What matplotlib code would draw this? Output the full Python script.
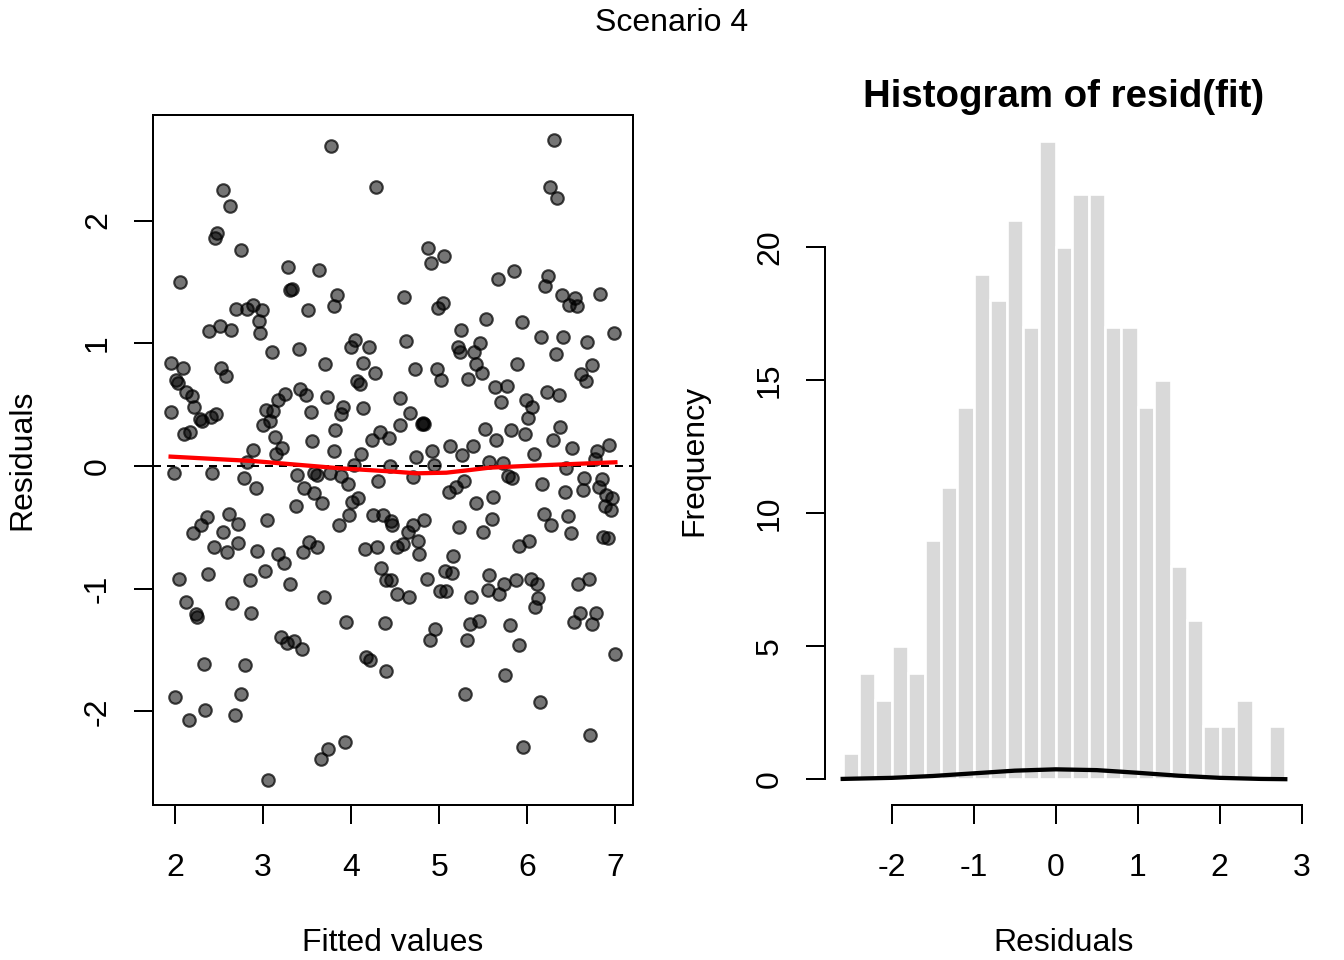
import matplotlib
matplotlib.use("Agg")
import matplotlib.pyplot as plt

plt.rcParams["font.family"] = ["Liberation Sans", "DejaVu Sans"]
plt.rcParams["axes.unicode_minus"] = False

# scatter: fitted values vs residuals
fitted = [
    3.77, 4.28, 2.55, 2.62, 2.48, 2.45, 2.75, 2.06, 3.28, 3.64, 3.31, 3.33, 3.84, 3.80, 3.51,
    2.69, 2.82, 2.89, 2.99, 2.95, 2.96, 2.51, 2.39, 2.64, 3.10, 3.41, 4.04, 4.00, 4.20,
    6.30, 6.26, 6.34, 4.87, 5.05, 4.91, 4.60, 5.04, 4.99, 5.67, 5.85, 6.23, 6.20, 6.39, 6.54,
    6.47, 6.56, 6.83, 5.53, 5.94, 5.25, 4.62, 6.15, 6.40, 6.68, 6.98, 5.21, 5.24, 5.46, 5.39, 6.33,
    1.95, 2.09, 2.52, 2.58, 2.01, 2.03, 2.13, 2.19, 1.96, 2.22, 2.28, 2.31, 2.41, 2.47, 2.10,
    2.17, 1.99, 2.42, 2.89, 2.82, 2.78, 2.92,
    3.70, 4.14, 4.27, 4.07, 4.10, 3.42, 3.49, 3.25, 3.17, 3.03, 3.11, 3.08, 3.00, 3.72, 3.54,
    3.91, 3.88, 4.13, 3.82, 3.13, 3.55, 3.21, 3.15, 3.80, 4.33, 4.24, 4.43, 4.11, 4.03, 4.44,
    3.38, 3.58, 3.61, 3.76, 3.89, 3.96, 4.31, 3.47, 3.58, 3.67, 3.37, 4.08, 4.01, 3.97, 3.86,
    4.25, 4.36, 4.45, 4.46,
    2.61, 2.72, 2.36, 2.29, 2.20, 2.54, 3.04, 2.44, 2.59, 2.71, 2.93, 3.17, 3.24, 3.45, 3.52,
    3.61, 4.16, 4.29, 4.34, 4.40, 4.45, 2.05, 2.37, 2.85, 3.02, 3.31,
    4.72, 4.97, 5.02, 5.33, 5.42, 5.49, 5.88, 5.63, 5.77, 5.70, 5.99, 6.05, 6.01, 6.22, 6.36,
    6.61, 6.67, 6.74, 4.56, 4.67, 4.55, 4.80, 4.83, 4.82,
    5.52, 5.64, 5.81, 5.97, 6.37, 6.29, 6.51, 6.93, 6.79, 6.77, 6.08, 5.12, 4.92, 4.74, 5.38,
    5.26, 4.94, 5.57, 5.72,
    4.70, 5.28, 5.19, 5.11, 5.78, 5.83, 6.17, 6.43, 6.44, 6.64, 6.63, 6.85, 6.81, 6.89, 6.96,
    6.88, 6.95, 5.61, 5.42, 5.60, 5.50, 5.22, 4.83, 4.70, 4.64,
    6.19, 6.27, 6.46, 6.50, 4.59, 4.52, 4.76, 4.77, 5.16, 6.02, 5.91, 6.86, 6.92, 5.07, 5.14,
    4.86, 5.56, 5.87, 6.04, 6.11, 6.70, 6.57, 5.73,
    2.12, 2.24, 2.25, 2.65, 2.86, 3.69, 3.94, 4.38, 4.52, 3.20, 3.27, 3.35, 3.44, 4.17, 4.21,
    4.39, 2.33, 2.79, 2.00, 2.75, 2.34, 2.16, 2.68, 3.93, 3.74, 3.66, 3.06,
    4.66, 5.01, 5.08, 5.36, 5.55, 5.68, 6.12, 6.09, 4.95, 4.89, 5.35, 5.45, 5.31, 5.80, 5.91,
    6.60, 6.53, 6.78, 6.74, 7.00, 5.75, 5.29, 6.14, 6.71, 5.95,
]
resid = [
    2.61, 2.27, 2.25, 2.12, 1.90, 1.86, 1.76, 1.50, 1.62, 1.60, 1.43, 1.44, 1.39, 1.30, 1.27,
    1.28, 1.28, 1.31, 1.27, 1.18, 1.08, 1.14, 1.10, 1.11, 0.93, 0.95, 1.03, 0.97, 0.97,
    2.66, 2.27, 2.18, 1.78, 1.71, 1.65, 1.38, 1.33, 1.29, 1.52, 1.59, 1.55, 1.47, 1.39, 1.37,
    1.31, 1.30, 1.40, 1.20, 1.17, 1.11, 1.02, 1.05, 1.05, 1.01, 1.08, 0.97, 0.93, 1.00, 0.93, 0.91,
    0.84, 0.80, 0.80, 0.73, 0.70, 0.68, 0.60, 0.57, 0.44, 0.48, 0.38, 0.37, 0.40, 0.42, 0.26,
    0.28, -0.06, -0.06, 0.13, 0.03, -0.10, -0.18,
    0.83, 0.84, 0.76, 0.69, 0.67, 0.63, 0.58, 0.59, 0.54, 0.46, 0.45, 0.37, 0.33, 0.56, 0.44,
    0.48, 0.42, 0.47, 0.29, 0.24, 0.20, 0.15, 0.10, 0.12, 0.28, 0.21, 0.23, 0.10, 0.01, 0.00,
    -0.07, -0.06, -0.07, -0.06, -0.08, -0.15, -0.12, -0.18, -0.22, -0.30, -0.33, -0.26, -0.29,
    -0.40, -0.48, -0.40, -0.40, -0.45, -0.48,
    -0.39, -0.47, -0.42, -0.48, -0.55, -0.54, -0.44, -0.66, -0.70, -0.63, -0.69, -0.72, -0.79,
    -0.70, -0.62, -0.66, -0.68, -0.66, -0.83, -0.93, -0.93, -0.92, -0.88, -0.93, -0.86, -0.96,
    0.79, 0.79, 0.70, 0.71, 0.83, 0.76, 0.83, 0.64, 0.65, 0.52, 0.54, 0.48, 0.39, 0.60, 0.58,
    0.75, 0.69, 0.82, 0.55, 0.43, 0.33, 0.34, 0.34, 0.35,
    0.30, 0.21, 0.29, 0.26, 0.32, 0.21, 0.15, 0.17, 0.12, 0.06, 0.10, 0.16, 0.12, 0.07, 0.16,
    0.09, 0.01, 0.03, 0.02,
    -0.09, -0.12, -0.17, -0.21, -0.08, -0.10, -0.15, -0.21, -0.02, -0.10, -0.20, -0.11, -0.17,
    -0.24, -0.26, -0.33, -0.36, -0.25, -0.30, -0.43, -0.54, -0.50, -0.44, -0.48, -0.54,
    -0.39, -0.48, -0.41, -0.55, -0.64, -0.66, -0.61, -0.72, -0.73, -0.61, -0.65, -0.58, -0.59,
    -0.86, -0.87, -0.92, -0.89, -0.93, -0.92, -0.96, -0.92, -0.96, -0.96,
    -1.11, -1.21, -1.23, -1.12, -1.20, -1.07, -1.27, -1.28, -1.04, -1.39, -1.44, -1.43, -1.49,
    -1.56, -1.58, -1.67, -1.61, -1.62, -1.88, -1.86, -1.99, -2.07, -2.03, -2.25, -2.31, -2.39,
    -2.56,
    -1.07, -1.02, -1.02, -1.07, -1.01, -1.04, -1.08, -1.15, -1.33, -1.42, -1.29, -1.26, -1.42,
    -1.30, -1.46, -1.20, -1.27, -1.20, -1.29, -1.53, -1.70, -1.86, -1.92, -2.19, -2.29,
]

# red smoother through the scatter
smooth_x = [1.95, 2.89, 3.87, 4.48, 4.74, 5.08, 5.35, 5.57, 6.07, 6.45, 7.00]
smooth_y = [0.076, 0.040, -0.019, -0.046, -0.060, -0.055, -0.033, -0.014, 0.003, 0.014, 0.030]

# histogram of residuals
bin_edges = [-2.6, -2.4, -2.2, -2.0, -1.8, -1.6, -1.4, -1.2, -1.0, -0.8, -0.6, -0.4, -0.2, 0.0,
             0.2, 0.4, 0.6, 0.8, 1.0, 1.2, 1.4, 1.6, 1.8, 2.0, 2.2, 2.4, 2.6, 2.8]
counts = [1, 4, 3, 5, 4, 9, 11, 14, 19, 18, 21, 17, 24, 20, 22, 22, 17, 17, 14, 15, 8, 6, 2, 2,
          3, 0, 2]

# density curve drawn on the frequency axis
dens_x = [-2.6, -2.0, -1.5, -1.0, -0.5, 0.0, 0.5, 1.0, 1.5, 2.0, 2.5, 2.8]
dens_y = [0.02, 0.06, 0.13, 0.23, 0.33, 0.38, 0.35, 0.25, 0.14, 0.06, 0.02, 0.01]

W, H = 1344, 960
fig = plt.figure(figsize=(7, 5), dpi=192)

# ---- left: residuals vs fitted ----
ax1 = fig.add_axes([153 / W, 1 - 805 / H, 480 / W, 690 / H])
ax1.scatter(fitted, resid, s=22, facecolors=(0, 0, 0, 0.54), edgecolors=(0, 0, 0, 0.72),
            linewidths=0.8, zorder=3)
ax1.axhline(0, color="black", lw=0.75, ls=(0, (4, 3)), zorder=2)
ax1.plot(smooth_x, smooth_y, color="red", lw=1.6, zorder=4)
ax1.set_xlim(1.75, 7.2)
ax1.set_ylim(-2.763, 2.86)
ax1.set_xticks([2, 3, 4, 5, 6, 7])
ax1.set_yticks([-2, -1, 0, 1, 2])
ax1.set_xlabel("Fitted values", fontsize=12, labelpad=17)
ax1.set_ylabel("Residuals", fontsize=12, labelpad=17)
for sp in ax1.spines.values():
    sp.set_linewidth(0.75)

# ---- right: histogram ----
ax2 = fig.add_axes([825 / W, 1 - 805 / H, 478 / W, 690 / H])
ax2.bar(bin_edges[:-1], counts, width=0.2, align="edge", color="#d9d9d9",
        edgecolor="white", linewidth=1.0)
ax2.plot(dens_x, dens_y, color="black", lw=1.6)
ax2.set_xlim(-2.816, 3.016)
ax2.set_ylim(-0.96, 24.96)
ax2.set_xticks([-2, -1, 0, 1, 2, 3])
ax2.set_yticks([0, 5, 10, 15, 20])
ax2.spines["top"].set_visible(False)
ax2.spines["right"].set_visible(False)
ax2.spines["left"].set_bounds(0, 20)
ax2.spines["bottom"].set_bounds(-2, 3)
for sp in ax2.spines.values():
    sp.set_linewidth(0.75)
ax2.set_title("Histogram of resid(fit)", fontsize=14.4, fontweight="bold", pad=0.5)
ax2.set_xlabel("Residuals", fontsize=12, labelpad=17)
ax2.set_ylabel("Frequency", fontsize=12, labelpad=17)

for ax in (ax1, ax2):
    ax.tick_params(axis="both", length=7, width=0.75, labelsize=12, direction="out")
    ax.tick_params(axis="x", pad=11)
    ax.tick_params(axis="y", pad=8)
    for lab in ax.get_yticklabels():
        lab.set_rotation(90)
        lab.set_va("center")

fig.suptitle("Scenario 4", fontsize=12, y=1 - 23 / H, va="center")

fig.savefig("out.png", dpi=192)
